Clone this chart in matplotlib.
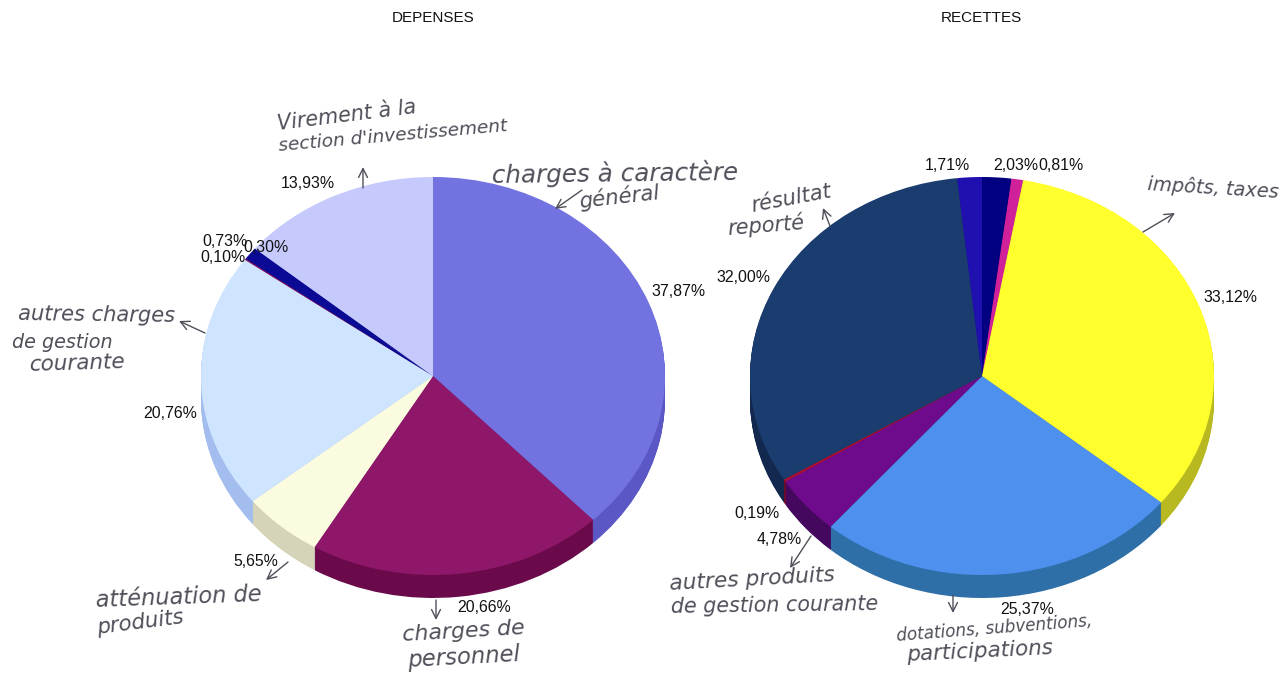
import math
import matplotlib
matplotlib.use('Agg')
import matplotlib.pyplot as plt

W, H = 1280, 675
DEPTH = 23      # epaisseur du camembert, en pixels
RY = 199.0

# donnees
depenses = [37.87, 20.66, 5.65, 20.76, 0.10, 0.73, 0.30, 13.93]
dep_colors = ['#7272E0', '#8F1769', '#FBFBE0', '#CFE5FF', '#8F1769', '#0A0A96', '#0A0A96', '#C5C9FB']
dep_sides = ['#5B57C4', '#6B0A4B', '#D5D4B8', '#A3BEEE', '#6B0A4B', '#06066E', '#06066E', '#A0A4DC']
dep_labels = ['37,87%', '20,66%', '5,65%', '20,76%', '0,10%', '0,73%', '0,30%', '13,93%']

recettes = [2.03, 0.81, 33.12, 25.37, 4.78, 0.19, 32.00, 1.71]
rec_colors = ['#000080', '#D0209A', '#FFFF2E', '#4D90EE', '#6E0A8C', '#B01030', '#1B3C6F', '#2010B0']
rec_sides = ['#000060', '#A01878', '#B8B820', '#2F6FA8', '#45085F', '#800A20', '#12284F', '#180C88']
rec_labels = ['2,03%', '0,81%', '33,12%', '25,37%', '4,78%', '0,19%', '32,00%', '1,71%']

# position du centre des etiquettes (pixels)
dep_pos = [(679, 292), (484, 608), (256, 561), (170, 413), (223, 258), (225, 242), (266, 248), (308, 184)]
rec_pos = [(1016, 165), (1061, 166), (1230, 297), (1027, 609), (779, 539), (757, 514), (743, 277), (947, 165)]

# annotations manuscrites : texte puis debut et fin de la ligne de base (pixels)
notes = [
    ('Virement à la', 278, 130, 417, 113),
    ('section d\'investissement', 279, 151, 507, 131),
    ('charges à caractère', 492, 183, 738, 180),
    ('général', 580, 208, 660, 199),
    ('autres charges', 18, 320, 175, 322),
    ('de gestion', 12, 348, 112, 348),
    ('courante', 29, 371, 125, 368),
    ('atténuation de', 96, 607, 262, 601),
    ('produits', 98, 634, 185, 623),
    ('charges de', 403, 641, 525, 634),
    ('personnel', 408, 667, 520, 661),
    ('impôts, taxes', 1147, 190, 1278, 198),
    ('résultat', 752, 212, 832, 197),
    ('reporté', 728, 235, 805, 229),
    ('autres produits', 670, 590, 835, 581),
    ('de gestion courante', 671, 613, 878, 610),
    ('dotations, subventions,', 897, 641, 1093, 626),
    ('participations', 907, 661, 1053, 654),
]
# fleches : depart et arrivee (pixels)
arrows = [
    ((363, 188), (363, 167)), ((582, 190), (555, 209)), ((205, 333), (179, 321)),
    ((288, 562), (266, 580)), ((436, 600), (436, 620)), ((1143, 232), (1175, 213)),
    ((830, 226), (823, 208)), ((811, 536), (790, 568)), ((953, 595), (953, 613)),
]


def pie_3d(cx, cy, rx, values, colors, sides):
    margin = 1.02
    left = cx - rx * margin
    bottom = H - (cy + RY * margin + DEPTH)
    ax = fig.add_axes([left / W, bottom / H, 2 * rx * margin / W, (2 * RY * margin + DEPTH) / H])
    # les tranches de la face laterale, empilees
    for off in range(DEPTH, 0, -1):
        ax.pie(values, colors=sides, startangle=90, counterclock=False,
               center=(0, -off / RY), wedgeprops={'linewidth': 0})
    ax.pie(values, colors=colors, startangle=90, counterclock=False, wedgeprops={'linewidth': 0})
    ax.set_aspect('auto')
    ax.set_xlim(-margin, margin)
    ax.set_ylim(-margin - DEPTH / RY, margin)
    return ax


fig = plt.figure(figsize=(W / 100, H / 100), dpi=100, facecolor='white')
pie_3d(433, 376, 232, depenses, dep_colors, dep_sides)
pie_3d(982, 376, 232, recettes, rec_colors, rec_sides)

over = fig.add_axes([0, 0, 1, 1], facecolor='none')
over.set_xlim(0, W)
over.set_ylim(H, 0)
over.axis('off')

for title, x in [('DEPENSES', 433), ('RECETTES', 981)]:
    over.text(x, 18, title, ha='center', va='center', family='Liberation Sans', fontsize=11, color='#111111')

for lab, (x, y) in zip(dep_labels + rec_labels, dep_pos + rec_pos):
    over.text(x, y, lab, ha='center', va='center', family='Liberation Sans', fontsize=11.4, color='#111111')

renderer = fig.canvas.get_renderer()
for txt, x0, y0, x1, y1 in notes:
    t = over.text(x0, y0, txt, ha='left', va='baseline', family='DejaVu Sans', style='oblique',
                  fontsize=10, rotation_mode='anchor', color='#4F4F5A')
    # taille ajustee pour occuper la meme largeur que sur l'image
    width = t.get_window_extent(renderer).width
    t.set_fontsize(10 * math.hypot(x1 - x0, y1 - y0) / width)
    t.set_rotation(math.degrees(math.atan2(y0 - y1, x1 - x0)))

for start, end in arrows:
    over.annotate('', xy=end, xytext=start,
                  arrowprops=dict(arrowstyle='->', color='#4F4F5A', lw=1, mutation_scale=16,
                                  shrinkA=0, shrinkB=0))

fig.savefig('out.png', dpi=100)
